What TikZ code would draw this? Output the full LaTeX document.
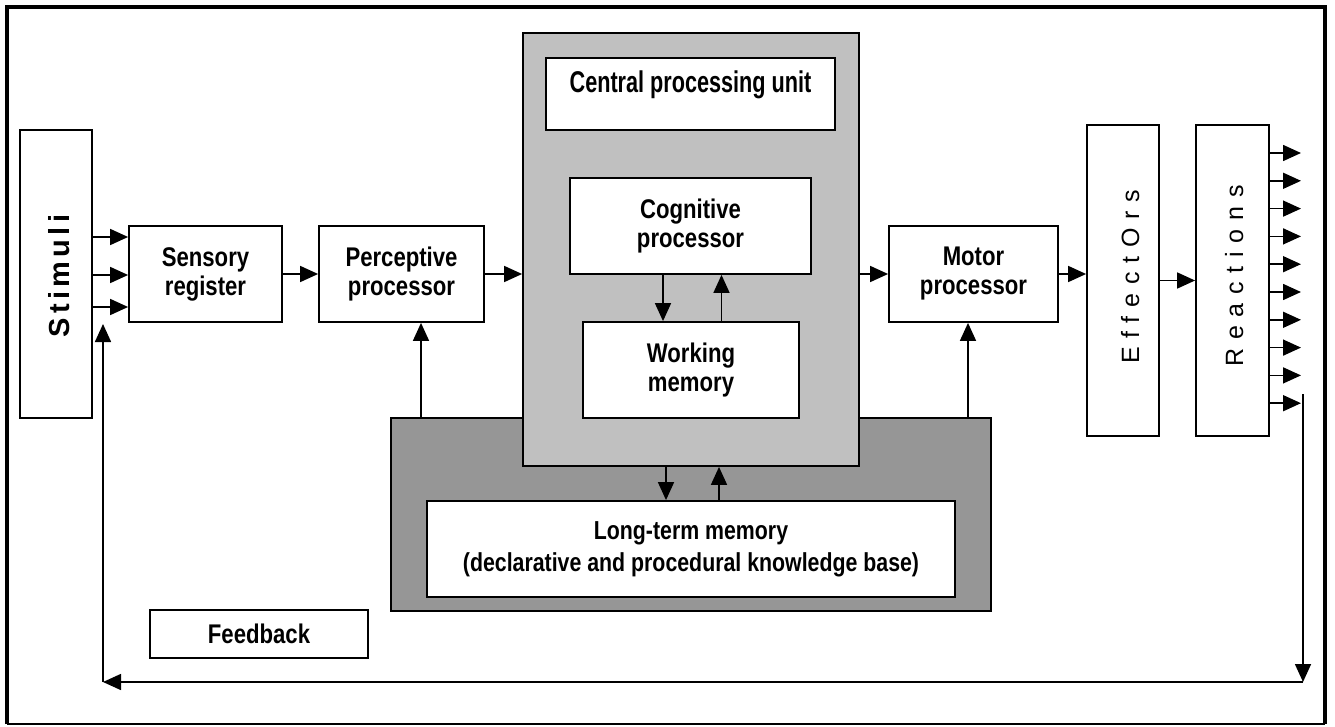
\documentclass[tikz,border=0pt]{standalone}
\usepackage{fontspec}
\setmainfont[FakeStretch=0.82]{Liberation Sans}
\newfontfamily\stimfont[LetterSpace=15]{Liberation Sans}
\newfontfamily\spacedfont[LetterSpace=35]{Liberation Sans}
\usetikzlibrary{arrows.meta}
\definecolor{lightg}{HTML}{C0C0C0}
\definecolor{darkg}{HTML}{969696}
\begin{document}
\begin{tikzpicture}[x=1pt,y=-1pt,
  box/.style={draw, line width=1.8pt, fill=white, inner sep=0pt, align=center,
    font=\bfseries\fontsize{27}{29}\selectfont},
  arr/.style={line width=1.6pt, -{Triangle[length=18pt 0,width=16pt 0]}},
  frameline/.style={line width=4pt},
  vtext/.style={rotate=90, anchor=base},
]
\useasboundingbox (0,0) rectangle (1335,727);

% outer frame
\draw[frameline] (7,724) -- (7,7.5) -- (1325,7.5) -- (1325,724);
\draw[line width=1.8pt] (7,724) -- (1325,724);

% boxes
\node[box, minimum width=72pt, minimum height=288pt] (stim) at (56,274) {};
\node[vtext, font=\stimfont\bfseries\fontsize{29}{30}\selectfont] (stimtxt) at (69,276) {Stimuli};
\node[box, minimum width=153pt, minimum height=96pt] (sr) at (205.5,274) {Sensory\\register};
\node[box, minimum width=165pt, minimum height=96pt] (pp) at (401.5,274) {Perceptive\\processor};

\node[box, fill=darkg, minimum width=600pt, minimum height=193pt] (ltmbg) at (691,514.5) {};
\node[box, fill=lightg, minimum width=336pt, minimum height=433pt] (cpu) at (691,249.5) {};
\node[box, minimum width=289pt, minimum height=72pt] (cpt) at (690.5,94) {};
\node[anchor=base, font=\bfseries\fontsize{30}{32}\selectfont] (cpttxt) at (690.5,93) {\scalebox{0.88}[1]{Central processing unit}};
\node[box, minimum width=241pt, minimum height=96pt] (cog) at (690.5,226) {Cognitive\\processor};
\node[box, minimum width=216pt, minimum height=96pt] (wm) at (691,370) {Working\\memory};
\node[box, minimum width=528pt, minimum height=96pt, font=\bfseries\fontsize{26}{32}\selectfont] (ltm) at (691,549) {Long-term memory\\(declarative and procedural knowledge base)};

\node[box, minimum width=169pt, minimum height=96pt] (mp) at (973.5,274) {Motor\\processor};
\node[box, minimum width=72pt, minimum height=311pt] (eff) at (1123,280.5) {};
\node[vtext, font=\spacedfont\fontsize{25}{26}\selectfont] (efftxt) at (1139,277) {EffectOrs};
\node[box, minimum width=73pt, minimum height=311pt] (rea) at (1232.5,280.5) {};
\node[vtext, font=\spacedfont\fontsize{25}{26}\selectfont] (reatxt) at (1243,276) {Reactions};

\node[box, minimum width=218pt, minimum height=48pt] (fb) at (259,634) {Feedback};

% stimuli -> sensory register
\draw[arr] ([yshift=37pt]stim.east) -- ([yshift=37pt]sr.west);
\draw[arr] ([yshift=-1pt]stim.east) -- ([yshift=-1pt]sr.west);
\draw[arr] ([yshift=-33pt]stim.east) -- ([yshift=-33pt]sr.west);

% main chain
\draw[arr] (sr.east) -- (pp.west);
\draw[arr] (pp.east) -- (pp.east -| cpu.west);
\draw[arr] (mp.west -| cpu.east) -- (mp.west);
\draw[arr] (mp.east) -- (mp.east -| eff.west);
\draw[arr] (eff.east) -- (rea.west);

% long-term memory up to perceptive and motor
\coordinate (pa) at ([xshift=19.5pt]pp.south);
\draw[arr] (pa |- ltmbg.north) -- (pa);
\coordinate (ma) at ([xshift=-5.5pt]mp.south);
\draw[arr] (ma |- ltmbg.north) -- (ma);

% cognitive <-> working memory
\coordinate (cd) at ([xshift=-27.5pt]cog.south);
\draw[arr] (cd) -- (cd |- wm.north);
\coordinate (cu) at ([xshift=31pt]cog.south);
\draw[arr] (cu |- wm.north) -- (cu);

% cpu <-> long-term memory
\coordinate (ld) at ([xshift=-25pt]cpu.south);
\draw[arr] (ld) -- (ld |- ltm.north);
\coordinate (lu) at ([xshift=28pt]cpu.south);
\draw[arr] (lu |- ltm.north) -- (lu);

% reactions outputs
\foreach \i in {0,...,9} {
  \coordinate (ro\i) at (1301,{153+\i*27.8});
  \draw[arr] (rea.east |- ro\i) -- (ro\i);
}

% feedback loop
\coordinate (fb1) at (1303,394);
\coordinate (fb2) at (1303,682);
\coordinate (fb3) at (103,682);
\coordinate (fb4) at (103,324);
\draw[arr] (fb1) -- (fb2);
\draw[arr] (fb2) -- (fb3);
\draw[arr] (fb3) -- (fb4);
\end{tikzpicture}
\end{document}
